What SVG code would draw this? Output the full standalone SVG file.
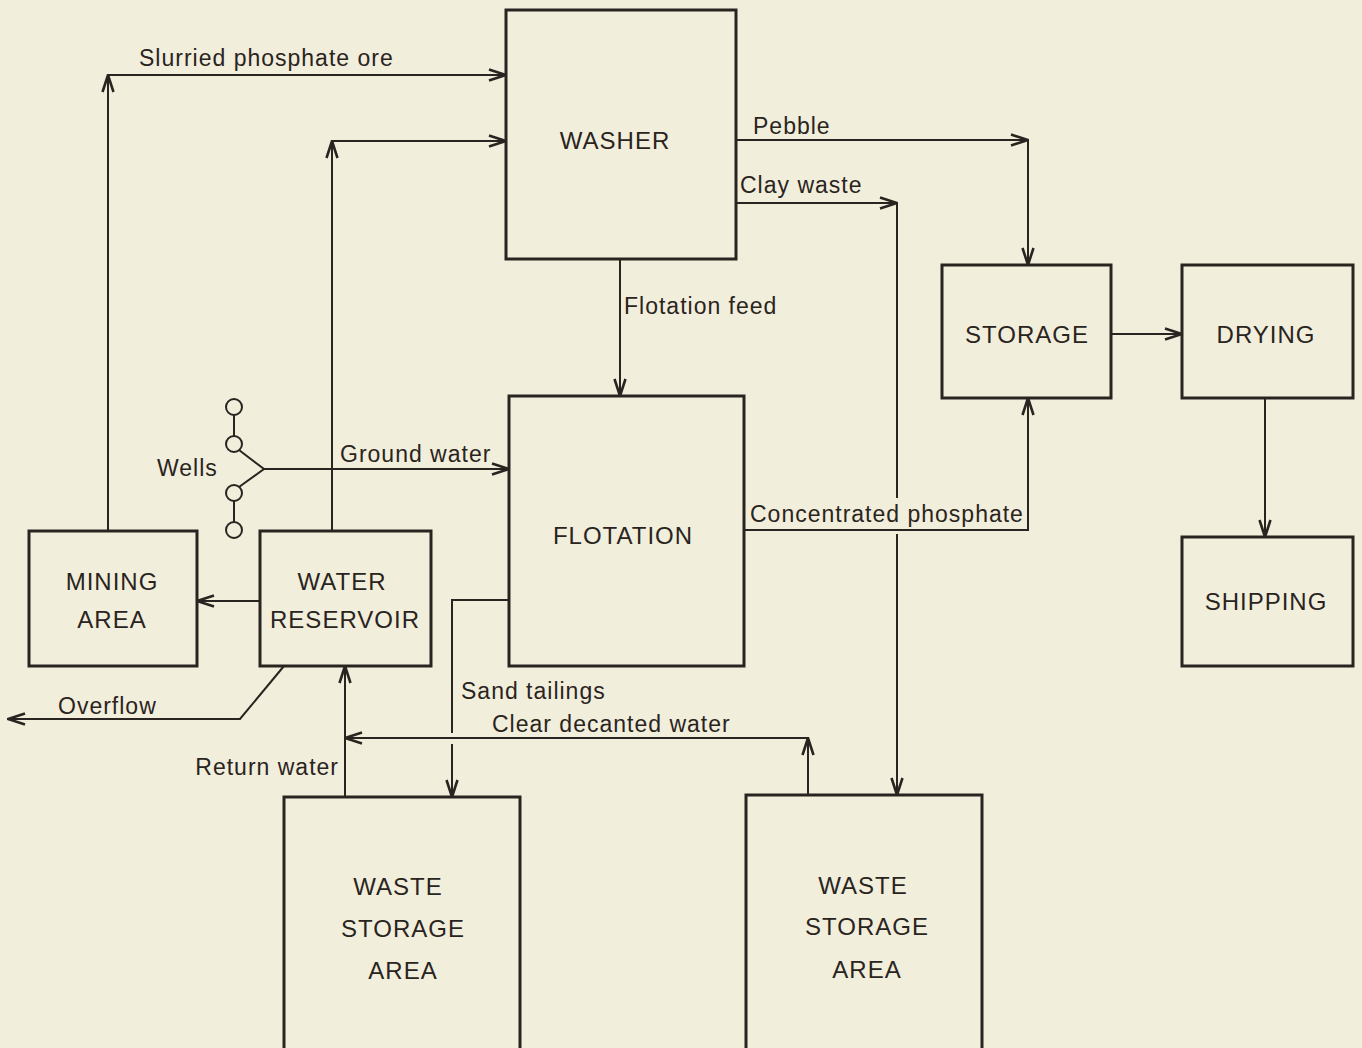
<svg xmlns="http://www.w3.org/2000/svg" width="1362" height="1048" viewBox="0 0 1362 1048">
<style>
.box{fill:none;stroke:#2a2420;stroke-width:3}
.ln{fill:none;stroke:#2a2420;stroke-width:2}
.arr{fill:none;stroke:#2a2420;stroke-width:2;marker-end:url(#ah)}
.nl{font-family:"Liberation Sans",Arial,sans-serif;font-size:24px;fill:#2a2420;text-anchor:middle;letter-spacing:1px}
.el{font-family:"Liberation Sans",Arial,sans-serif;font-size:23px;fill:#2a2420;letter-spacing:1px}
.well{fill:none;stroke:#2a2420;stroke-width:2}
</style>
<defs>
<marker id="ah" viewBox="0 0 20 14" refX="19" refY="7" markerWidth="20" markerHeight="14" markerUnits="userSpaceOnUse" orient="auto">
<path d="M2,1.5 L19,7 L2,12.5" fill="none" stroke="#2a2420" stroke-width="2.6"/>
</marker>
</defs>
<rect width="1362" height="1048" fill="#f2eedc"/>

<g id="connectors">
<path class="arr" d="M108,531 V75"/>
<path class="arr" d="M108,75 H506"/>
<path class="arr" d="M332,531 V141"/>
<path class="arr" d="M332,141 H506"/>
<path class="arr" d="M736,140 H1028"/>
<path class="arr" d="M1028,140 V265"/>
<path class="arr" d="M736,203 H897"/>
<path class="ln" d="M897,203 V498"/>
<path class="arr" d="M897,534 V795"/>
<path class="arr" d="M620,259 V396"/>
<path class="arr" d="M1111,334 H1182"/>
<path class="arr" d="M1265,398 V537"/>
<path class="arr" d="M744,530 H1028 V398"/>
<path class="arr" d="M264,469 H509"/>
<path class="arr" d="M260,601 H197"/>
<path class="arr" d="M284,666 L240,719 H8"/>
<path class="arr" d="M345,797 V666"/>
<path class="arr" d="M808,795 V738"/>
<path class="arr" d="M808,738 H345"/>
<path class="ln" d="M509,600 H452 V733"/>
<path class="arr" d="M452,744 V797"/>
</g>

<g id="wells">
<circle class="well" cx="234" cy="407" r="8"/>
<circle class="well" cx="234" cy="444" r="8"/>
<circle class="well" cx="234" cy="493" r="8"/>
<circle class="well" cx="234" cy="530" r="8"/>
<path class="ln" d="M234,415 V436 M234,501 V522 M239,450 L264,469 L239,487"/>
<text class="el" x="157" y="476">Wells</text>
</g>

<g id="washer"><rect class="box" x="506" y="10" width="230" height="249"/><text class="nl" x="615" y="149">WASHER</text></g>
<g id="flotation"><rect class="box" x="509" y="396" width="235" height="270"/><text class="nl" x="623" y="544">FLOTATION</text></g>
<g id="storage"><rect class="box" x="942" y="265" width="169" height="133"/><text class="nl" x="1027" y="343">STORAGE</text></g>
<g id="drying"><rect class="box" x="1182" y="265" width="171" height="133"/><text class="nl" x="1266" y="343">DRYING</text></g>
<g id="shipping"><rect class="box" x="1182" y="537" width="171" height="129"/><text class="nl" x="1266" y="610">SHIPPING</text></g>
<g id="mining"><rect class="box" x="29" y="531" width="168" height="135"/><text class="nl" x="112" y="590">MINING</text><text class="nl" x="112" y="628">AREA</text></g>
<g id="reservoir"><rect class="box" x="260" y="531" width="171" height="135"/><text class="nl" x="342" y="590">WATER</text><text class="nl" x="345" y="628">RESERVOIR</text></g>
<g id="waste1"><path class="box" d="M284,1050 V797 H520 V1050"/><text class="nl" x="398" y="895">WASTE</text><text class="nl" x="403" y="937">STORAGE</text><text class="nl" x="403" y="979">AREA</text></g>
<g id="waste2"><path class="box" d="M746,1050 V795 H982 V1050"/><text class="nl" x="863" y="894">WASTE</text><text class="nl" x="867" y="935">STORAGE</text><text class="nl" x="867" y="978">AREA</text></g>

<g id="labels">
<text class="el" x="139" y="66">Slurried phosphate ore</text>
<text class="el" x="753" y="134">Pebble</text>
<text class="el" x="740" y="193">Clay waste</text>
<text class="el" x="624" y="314">Flotation feed</text>
<text class="el" x="340" y="462">Ground water</text>
<text class="el" x="750" y="522">Concentrated phosphate</text>
<text class="el" x="58" y="714">Overflow</text>
<text class="el" x="461" y="699">Sand tailings</text>
<text class="el" x="492" y="732">Clear decanted water</text>
<text class="el" x="339" y="775" text-anchor="end">Return water</text>
</g>
</svg>
